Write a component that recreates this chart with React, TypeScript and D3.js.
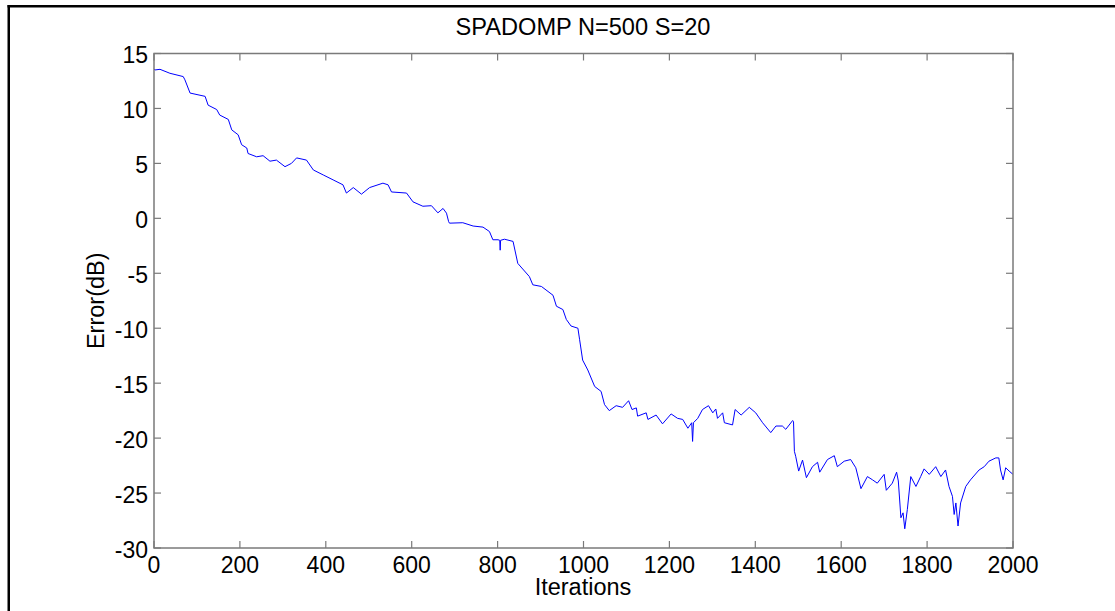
import React from "react";
import * as d3 from "d3";

const iterations: number[] = [0,2,14,37,68,72,84,119,126,146,153,173,181,196,204,216,219,239,254,270,285,305,320,332,355,371,394,417,440,448,464,483,502,533,545,553,588,603,626,646,661,673,681,686,688,719,743,766,781,789,801,805,806,807,816,836,847,874,882,902,929,937,952,960,971,987,991,998,1010,1026,1041,1049,1060,1076,1091,1105,1113,1123,1126,1146,1150,1169,1184,1204,1219,1231,1243,1252,1254,1256,1266,1277,1291,1301,1308,1312,1324,1328,1347,1353,1367,1386,1401,1417,1436,1448,1463,1471,1487,1489,1491,1494,1501,1510,1519,1533,1545,1550,1568,1584,1591,1607,1622,1634,1646,1661,1673,1684,1700,1705,1719,1729,1733,1739,1744,1748,1754,1762,1774,1785,1793,1805,1820,1832,1843,1851,1859,1863,1867,1872,1878,1890,1901,1921,1933,1944,1960,1967,1971,1977,1983,1991,2000];
const errorDb: number[] = [13.6,13.5,13.56,13.2,12.9,12.6,11.4,11.1,10.3,9.9,9.4,9.0,8.05,7.6,6.7,6.4,5.9,5.6,5.7,5.2,5.3,4.7,5.0,5.5,5.3,4.4,3.95,3.5,3.05,2.3,2.8,2.2,2.8,3.2,3.05,2.4,2.3,1.5,1.1,1.15,0.5,0.9,0.47,-0.3,-0.44,-0.4,-0.7,-0.8,-1.2,-1.95,-1.95,-2.0,-2.9,-2.0,-1.9,-2.1,-4.1,-5.3,-6.05,-6.2,-7.0,-8.0,-8.3,-9.2,-9.8,-10.0,-11.05,-12.9,-13.8,-15.3,-15.75,-16.95,-17.5,-17.05,-17.2,-16.6,-17.4,-17.25,-18.0,-17.7,-18.3,-17.9,-18.7,-17.8,-18.2,-18.3,-19.1,-18.6,-20.3,-18.6,-18.2,-17.4,-17.05,-17.7,-17.35,-18.2,-17.7,-18.6,-18.8,-17.4,-17.9,-17.2,-17.7,-18.6,-19.5,-18.9,-18.9,-19.2,-18.4,-18.5,-21.2,-21.65,-23.0,-22.0,-23.6,-22.6,-22.2,-23.1,-21.95,-21.6,-22.6,-22.1,-21.95,-22.7,-24.6,-23.5,-23.8,-24.1,-23.3,-24.75,-24.1,-23.1,-23.9,-27.25,-26.8,-28.25,-26.5,-23.5,-24.4,-23.5,-22.8,-23.3,-22.6,-23.5,-22.9,-24.4,-25.3,-26.95,-25.9,-28.0,-25.9,-24.4,-23.8,-22.9,-22.6,-22.1,-21.8,-21.8,-22.9,-23.8,-22.7,-23.0,-23.3];

const xTicks: number[] = [0,200,400,600,800,1000,1200,1400,1600,1800,2000];
const yTicks: number[] = [15,10,5,0,-5,-10,-15,-20,-25,-30];
const title = "SPADOMP N=500 S=20";
const xLabel = "Iterations";
const yLabel = "Error(dB)";

export default function App() {
  const W = 1115, H = 611;
  const left = 154, right = 1013, top = 53.5, bottom = 548;
  const x = d3.scaleLinear().domain([0, 2000]).range([left, right]);
  const y = d3.scaleLinear().domain([-30, 15]).range([bottom, top]);
  const line = d3.line<number>().x((_, i) => x(iterations[i])).y((d) => y(d));
  const font = "Arial, 'Liberation Sans', sans-serif";
  const axisColor = "#7a7a7a";
  const tl = 7;
  return (
    <svg width={W} height={H} style={{ position: "absolute", left: 0, top: 0, background: "#fff" }}>
      <rect x={0} y={0} width={W} height={H} fill="#fff" />
      <rect x={7.5} y={5} width={W} height={2.5} fill="#000" />
      <rect x={7.5} y={5} width={2.5} height={H} fill="#000" />
      <path d={line(errorDb) || ""} fill="none" stroke="#0000ff" strokeWidth={1} />
      <rect x={left} y={top} width={right - left} height={bottom - top} fill="none" stroke={axisColor} strokeWidth={1.5} />
      {xTicks.map((t) => (
        <g key={"x" + t}>
          <line x1={x(t)} x2={x(t)} y1={bottom} y2={bottom - tl} stroke={axisColor} strokeWidth={1.2} />
          <line x1={x(t)} x2={x(t)} y1={top} y2={top + tl} stroke={axisColor} strokeWidth={1.2} />
          <text x={x(t)} y={572.5} textAnchor="middle" fontFamily={font} fontSize={23} fill="#000">{t}</text>
        </g>
      ))}
      {yTicks.map((t) => (
        <g key={"y" + t}>
          <line x1={left} x2={left + tl} y1={y(t)} y2={y(t)} stroke={axisColor} strokeWidth={1.2} />
          <line x1={right} x2={right - tl} y1={y(t)} y2={y(t)} stroke={axisColor} strokeWidth={1.2} />
          <text x={148} y={y(t) + 9.5} textAnchor="end" fontFamily={font} fontSize={23} fill="#000">{t}</text>
        </g>
      ))}
      <text x={583} y={35} textAnchor="middle" fontFamily={font} fontSize={23.6} fill="#000">{title}</text>
      <text x={583} y={595} textAnchor="middle" fontFamily={font} fontSize={23.5} fill="#000">{xLabel}</text>
      <text transform={`translate(104,${(top + bottom) / 2}) rotate(-90)`} textAnchor="middle" fontFamily={font} fontSize={23.5} fill="#000">{yLabel}</text>
    </svg>
  );
}
